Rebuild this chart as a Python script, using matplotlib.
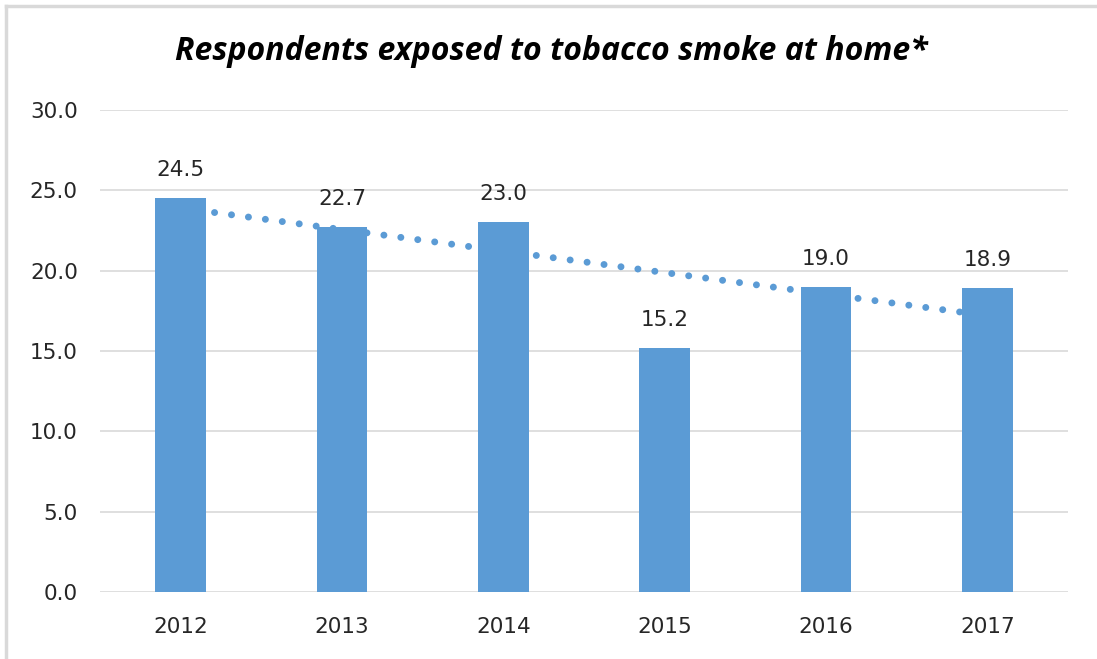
import matplotlib
matplotlib.use("Agg")
import matplotlib.pyplot as plt
import numpy as np
from matplotlib.lines import Line2D

years = ["2012", "2013", "2014", "2015", "2016", "2017"]
values = [24.5, 22.7, 23.0, 15.2, 19.0, 18.9]
yticks = [0, 5, 10, 15, 20, 25, 30]
title = "Respondents exposed to tobacco smoke at home*"

plt.rcParams['font.family'] = ['DejaVu Sans']

W, H = 1097, 659
fig = plt.figure(figsize=(W / 100, H / 100), dpi=100)
ax = fig.add_axes([100 / W, 1 - 592 / H, 968 / W, (592 - 110) / H])

x = np.arange(len(years))
bar_color = "#5B9BD5"
ax.bar(x, values, width=0.316, color=bar_color, zorder=2)

# linear trendline
coef = np.polyfit(x, values, 1)
tx = np.array([x[0], x[-1]])
ax.plot(tx, np.polyval(coef, tx), color=bar_color, linewidth=5,
        linestyle=(0, (0.01, 2.45)), dash_capstyle='round', zorder=3)

for xi, v in zip(x, values):
    ax.annotate(f"{v:.1f}", (xi, v), xytext=(0, 13), textcoords='offset points',
                ha='center', va='bottom', fontsize=15.5, color='#262626')

ax.set_xlim(-0.5, len(years) - 0.5)
ax.set_ylim(0, 30)
ax.set_yticks(yticks)
ax.set_yticklabels([f"{t:.1f}" for t in yticks])
ax.set_xticks(x)
ax.set_xticklabels(years)
ax.tick_params(axis='both', length=0, labelsize=15.5, labelcolor='#262626')
ax.tick_params(axis='y', pad=16)
ax.tick_params(axis='x', pad=18)
ax.grid(axis='y', color='#D9D9D9', linewidth=1.2, zorder=0)
ax.set_axisbelow(True)
for s in ax.spines.values():
    s.set_visible(False)

fig.text(551 / W, 1 - 52 / H, title, ha='center', va='center', fontsize=23,
         fontweight='bold', fontstyle='italic', color='black',
         family=['Open Sans', 'DejaVu Sans'])

# border (top and left edge of the chart frame)
fig.add_artist(Line2D([6 / W, 1], [1 - 6 / H, 1 - 6 / H], color='#D9D9D9', linewidth=2.5))
fig.add_artist(Line2D([6 / W, 6 / W], [0, 1 - 6 / H], color='#D9D9D9', linewidth=2.5))

fig.savefig("out.png", dpi=100)
